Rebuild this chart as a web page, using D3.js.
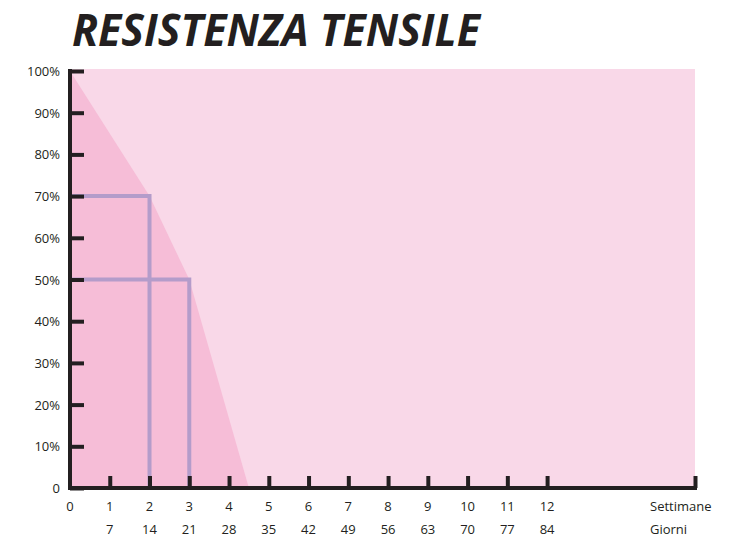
<!DOCTYPE html>
<html>
<head>
<meta charset="utf-8">
<script src="https://cdn.jsdelivr.net/npm/d3@7"></script>
<style>
  body { margin: 0; background: #fff; }
  text { font-family: "Open Sans", sans-serif; fill: #231f20; }
</style>
</head>
<body>
<div id="chart"></div>
<script>
// chart data
const weekTicks = [0, 1, 2, 3, 4, 5, 6, 7, 8, 9, 10, 11, 12];
const dayLabels = ["", "7", "14", "21", "28", "35", "42", "49", "56", "63", "70", "77", "84"];
const percentTicks = [0, 10, 20, 30, 40, 50, 60, 70, 80, 90, 100];
const curveWeeks = [0, 2, 3, 4.5];
const curveStrength = [100, 70, 50, 0];
const markerWeeks = [2, 3];
const markerStrength = [70, 50];

const width = 734, height = 552;
const margin = { top: 71, right: 39, bottom: 64, left: 70 };
const ink = "#231f20";

const svg = d3.select("#chart").append("svg")
  .attr("width", width)
  .attr("height", height);

const x = d3.scaleLinear().domain([0, 15.72]).range([margin.left, width - margin.right]);
const y = d3.scaleLinear().domain([0, 100]).range([height - margin.bottom, margin.top]);

// title
svg.append("text")
  .attr("x", 72)
  .attr("y", 46)
  .attr("textLength", 408)
  .attr("lengthAdjust", "spacingAndGlyphs")
  .style("font-size", "44px")
  .style("font-weight", "bold")
  .style("font-style", "italic")
  .text("RESISTENZA TENSILE");

// background area
svg.append("rect")
  .attr("x", x(0))
  .attr("y", y(100) - 2)
  .attr("width", x(15.72) - x(0))
  .attr("height", y(0) - y(100) + 2)
  .attr("fill", "#f9d8e8");

// strength curve area
const pts = curveWeeks.map((w, i) => [w, curveStrength[i]]);
const area = d3.area()
  .x(d => x(d[0]))
  .y0(y(0))
  .y1(d => y(d[1]));
svg.append("path")
  .datum(pts)
  .attr("d", area)
  .attr("fill", "#f6bdd7");

// marker lines
markerWeeks.forEach((w, i) => {
  svg.append("path")
    .attr("d", d3.line()([[x(0), y(markerStrength[i])], [x(w), y(markerStrength[i])], [x(w), y(0)]]))
    .attr("fill", "none")
    .attr("stroke", "#b49cca")
    .attr("stroke-width", 4);
});

// y axis
const yAxis = svg.append("g")
  .attr("transform", `translate(${x(0)},0)`)
  .call(d3.axisRight(y).tickValues(percentTicks).tickSize(14).tickFormat(""));
yAxis.select(".domain").remove();
yAxis.selectAll("line").attr("stroke", ink).attr("stroke-width", 4);
svg.append("line")
  .attr("x1", x(0)).attr("x2", x(0))
  .attr("y1", y(100) - 2).attr("y2", y(0) + 2)
  .attr("stroke", ink).attr("stroke-width", 4);

svg.append("g").selectAll("text")
  .data(percentTicks)
  .join("text")
  .attr("x", 60)
  .attr("y", d => y(d) + 5)
  .attr("text-anchor", "end")
  .style("font-size", "13px")
  .text(d => d === 0 ? "0" : d + "%");

// x axis
const xAxis = svg.append("g")
  .attr("transform", `translate(0,${y(0)})`)
  .call(d3.axisTop(x).tickValues(weekTicks.slice(1).concat([15.72])).tickSize(12).tickFormat(""));
xAxis.select(".domain").remove();
xAxis.selectAll("line").attr("stroke", ink).attr("stroke-width", 4);
svg.append("line")
  .attr("x1", x(0) - 2).attr("x2", x(15.72) + 2)
  .attr("y1", y(0)).attr("y2", y(0))
  .attr("stroke", ink).attr("stroke-width", 4);

svg.append("g").selectAll("text")
  .data(weekTicks)
  .join("text")
  .attr("x", d => x(d))
  .attr("y", 511)
  .attr("text-anchor", "middle")
  .style("font-size", "13px")
  .text(d => d);

svg.append("g").selectAll("text")
  .data(weekTicks)
  .join("text")
  .attr("x", d => x(d))
  .attr("y", 534)
  .attr("text-anchor", "middle")
  .style("font-size", "13px")
  .text((d, i) => dayLabels[i]);

svg.append("text").attr("x", 650).attr("y", 511).style("font-size", "13px").text("Settimane");
svg.append("text").attr("x", 650).attr("y", 534).style("font-size", "13px").text("Giorni");
</script>
</body>
</html>
